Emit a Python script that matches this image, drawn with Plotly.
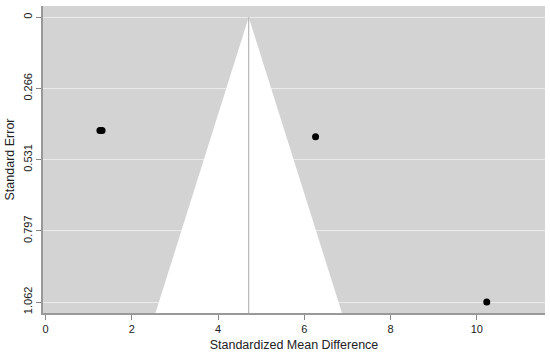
import plotly.graph_objects as go

# Study data (standardized mean difference, standard error)
smd = [1.26, 1.31, 6.26, 10.23]
se = [0.422, 0.422, 0.446, 1.062]

# Pooled estimate and funnel extent
pooled = 4.71
funnel_se_max = 1.103
z = 1.96

y_tickvals = [0, 0.2655, 0.531, 0.7965, 1.062]
y_ticktext = ["0", "0.266", "0.531", "0.797", "1.062"]
x_tickvals = [0, 2, 4, 6, 8, 10]

fig = go.Figure()

# funnel triangle
fig.add_trace(go.Scatter(
    x=[pooled - z * funnel_se_max, pooled, pooled + z * funnel_se_max],
    y=[funnel_se_max, 0, funnel_se_max],
    fill="toself", fillcolor="white", mode="lines",
    line=dict(color="white", width=0), hoverinfo="skip", showlegend=False))

# pooled line
fig.add_trace(go.Scatter(
    x=[pooled, pooled], y=[0, funnel_se_max], mode="lines",
    line=dict(color="#a8a8a8", width=1), hoverinfo="skip", showlegend=False))

# studies
fig.add_trace(go.Scatter(
    x=smd, y=se, mode="markers",
    marker=dict(color="black", size=7), showlegend=False))

fig.update_layout(
    width=550, height=355,
    margin=dict(l=43, r=5, t=6, b=42),
    paper_bgcolor="white", plot_bgcolor="#d3d3d3",
    font=dict(family="Liberation Sans, Arial, sans-serif", size=11, color="#222"),
    xaxis=dict(range=[-0.06, 11.58], tickvals=x_tickvals, showgrid=False, zeroline=False,
               automargin=False,
               ticks="outside", ticklen=5, tickcolor="#888", showline=True,
               linecolor="#999", linewidth=1.5,
               title=dict(text="Standardized Mean Difference", font=dict(size=12.5), standoff=6)),
    yaxis=dict(range=[1.103, -0.042], tickvals=y_tickvals, ticktext=y_ticktext,
               automargin=False,
               tickangle=-90, showgrid=True, gridcolor="#ebebeb", gridwidth=1,
               zeroline=False, ticks="outside", ticklen=5, tickcolor="#888",
               showline=True, linecolor="#999", linewidth=1.5,
               title=dict(text="Standard Error", font=dict(size=12.5), standoff=4)),
)

fig.write_html("out.html", config={"displayModeBar": False},
               post_script="document.body.style.margin='0';document.body.style.overflow='hidden';")
